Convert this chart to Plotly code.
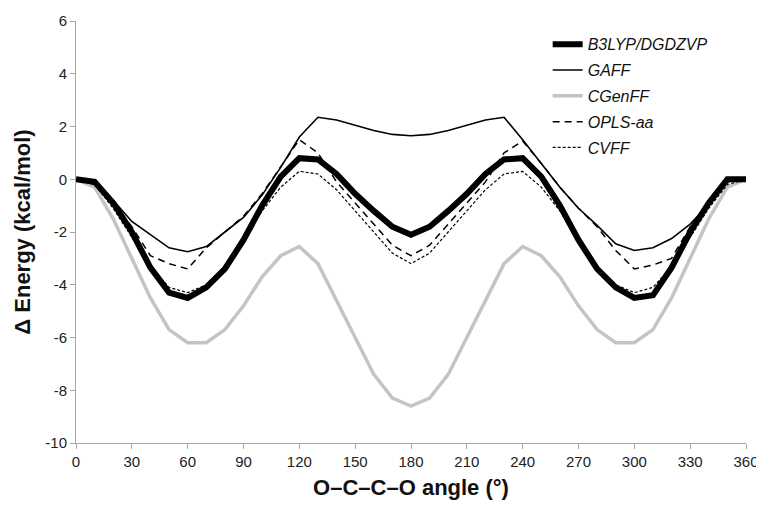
import plotly.graph_objects as go

angles = list(range(0, 361, 10))

b3lyp = [0.0, -0.1, -0.9, -2.0, -3.35, -4.3, -4.5, -4.1, -3.4, -2.3, -1.0, 0.1, 0.8,
         0.75, 0.2, -0.55, -1.2, -1.8, -2.1, -1.8, -1.2, -0.55, 0.2, 0.75, 0.8,
         0.1, -1.0, -2.3, -3.4, -4.1, -4.5, -4.4, -3.35, -2.0, -0.9, 0.0, 0.0]

gaff = [0.0, -0.2, -0.8, -1.6, -2.1, -2.6, -2.75, -2.55, -2.0, -1.45, -0.6, 0.45, 1.6,
        2.35, 2.25, 2.05, 1.85, 1.7, 1.65, 1.7, 1.85, 2.05, 2.25, 2.35, 1.5,
        0.6, -0.3, -1.1, -1.75, -2.45, -2.7, -2.6, -2.25, -1.7, -0.95, 0.0, 0.0]

cgenff = [0.0, -0.3, -1.5, -3.0, -4.5, -5.7, -6.2, -6.2, -5.7, -4.8, -3.7, -2.9, -2.55,
          -3.2, -4.6, -6.0, -7.4, -8.3, -8.6, -8.3, -7.4, -6.0, -4.6, -3.2, -2.55,
          -2.9, -3.7, -4.8, -5.7, -6.2, -6.2, -5.7, -4.5, -3.0, -1.5, -0.3, 0.0]

opls = [0.0, -0.1, -0.9, -1.8, -2.9, -3.2, -3.4, -2.6, -2.0, -1.4, -0.55, 0.5, 1.5,
        1.0, -0.1, -0.9, -1.7, -2.5, -2.9, -2.5, -1.7, -0.9, -0.1, 1.0, 1.45,
        0.6, -0.3, -1.1, -1.8, -2.7, -3.4, -3.25, -3.0, -1.8, -0.9, -0.1, 0.0]

cvff = [0.0, -0.2, -1.1, -2.2, -3.3, -4.1, -4.3, -4.0, -3.3, -2.3, -1.2, -0.3, 0.3,
        0.2, -0.4, -1.2, -2.0, -2.8, -3.2, -2.8, -2.0, -1.2, -0.4, 0.2, 0.3,
        -0.3, -1.2, -2.3, -3.3, -4.0, -4.3, -4.1, -3.3, -2.2, -1.1, -0.2, 0.0]

series_names = ["B3LYP/DGDZVP", "GAFF", "CGenFF", "OPLS-aa", "CVFF"]
x_ticks = list(range(0, 361, 30))
y_ticks = list(range(-10, 7, 2))

styles = [
    dict(color="black", width=6, dash="solid"),
    dict(color="black", width=1.6, dash="solid"),
    dict(color="#c4c4c4", width=3.5, dash="solid"),
    dict(color="black", width=1.5, dash="7px,5px"),
    dict(color="black", width=1.2, dash="3px,2px"),
]
data = [b3lyp, gaff, cgenff, opls, cvff]

fig = go.Figure()
order = [2, 0, 1, 3, 4]
for i in order:
    fig.add_trace(go.Scatter(
        x=angles, y=data[i], mode="lines", name=series_names[i],
        line=styles[i], legendrank=i + 1, legendgroup=series_names[i],
    ))

font_family = "Arial, Liberation Sans, sans-serif"
# page body has an 8px margin, so the figure is sized to fit the 764x507 window
fig.update_layout(
    width=756, height=499,
    margin=dict(l=68, r=18, t=13, b=64),
    paper_bgcolor="white", plot_bgcolor="white",
    font=dict(family=font_family, color="#222"),
    showlegend=True,
    legend=dict(
        x=0.704, y=0.985, xanchor="left", yanchor="top",
        font=dict(family=font_family, size=16, style="italic", color="#111"),
        bgcolor="rgba(0,0,0,0)", tracegroupgap=2, itemwidth=30,
    ),
    xaxis=dict(
        range=[0, 360], tickvals=x_ticks, ticktext=[str(v) for v in x_ticks],
        showgrid=False, zeroline=False, showline=True, linecolor="#a6a6a6",
        linewidth=1, ticks="outside", tickcolor="#a6a6a6", ticklen=5,
        tickfont=dict(size=15, color="#222"), automargin=False,
        title=dict(text="<b>O–C–C–O angle (°)</b>", font=dict(size=22, color="#111"), standoff=10),
    ),
    yaxis=dict(
        range=[-10, 6], tickvals=y_ticks, ticktext=[str(v) for v in y_ticks],
        showgrid=False, zeroline=False, showline=True, linecolor="#a6a6a6",
        linewidth=1, ticks="outside", tickcolor="#a6a6a6", ticklen=5,
        tickfont=dict(size=15, color="#222"), automargin=False,
        title=dict(text="<b>Δ Energy (kcal/mol)</b>", font=dict(size=22, color="#111"), standoff=8),
    ),
)

fig.write_html("out.html")
